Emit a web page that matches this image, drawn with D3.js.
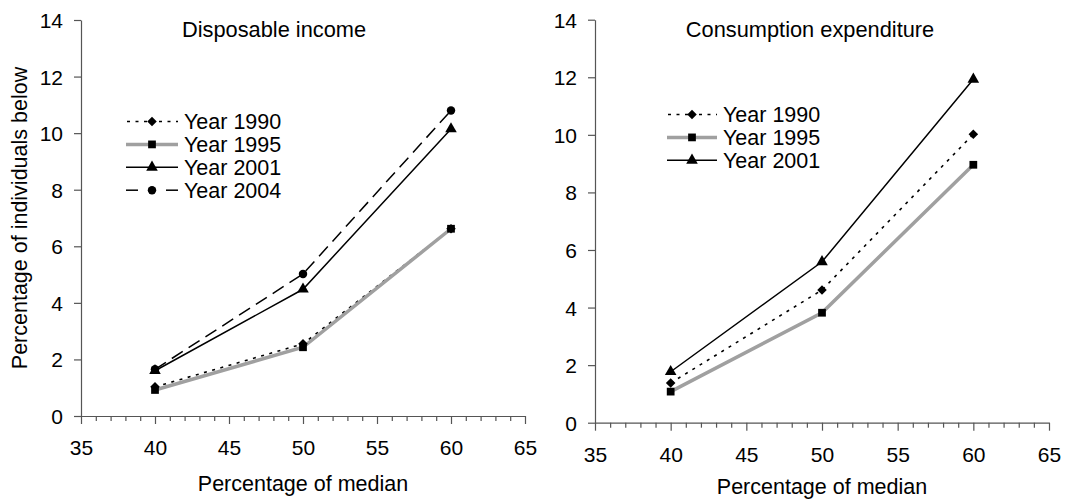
<!DOCTYPE html>
<html>
<head>
<meta charset="utf-8">
<script src="https://cdn.jsdelivr.net/npm/d3@7"></script>
<style>
  html, body { margin: 0; padding: 0; background: #fff; }
  svg { display: block; }
  text { font-family: "Liberation Sans", Arial, sans-serif; fill: #000; }
</style>
</head>
<body>
<svg id="chart" width="1070" height="502"></svg>
<script>
// ---- data ----
const xValues = [40, 50, 60];
const xTicks = [35, 40, 45, 50, 55, 60, 65];
const yTicks = [0, 2, 4, 6, 8, 10, 12, 14];

const incomeSeriesNames = ["Year 1990", "Year 1995", "Year 2001", "Year 2004"];
const income1990 = [1.03, 2.55, 6.62];
const income1995 = [0.92, 2.43, 6.62];
const income2001 = [1.60, 4.48, 10.15];
const income2004 = [1.65, 5.02, 10.80];

const consSeriesNames = ["Year 1990", "Year 1995", "Year 2001"];
const cons1990 = [1.38, 4.61, 10.02];
const cons1995 = [1.08, 3.82, 8.96];
const cons2001 = [1.77, 5.59, 11.93];

const panelTitles = ["Disposable income", "Consumption expenditure"];
const xLabel = "Percentage of median";
const yLabel = "Percentage of individuals below";

// ---- styles ----
const styles = {
  "Year 1990": { color: "#000", width: 1.6, dash: "3,5.5", marker: "diamond" },
  "Year 1995": { color: "#a0a0a0", width: 3.5, dash: null, marker: "square" },
  "Year 2001": { color: "#000", width: 1.5, dash: null, marker: "triangle" },
  "Year 2004": { color: "#000", width: 1.5, dash: "13,7", marker: "circle" }
};
const symbolMap = {
  diamond: d3.symbol().type(d3.symbolDiamond2).size(58),
  square: d3.symbol().type(d3.symbolSquare).size(60),
  triangle: d3.symbol().type(d3.symbolTriangle).size(58),
  circle: d3.symbol().type(d3.symbolCircle).size(56)
};

const svg = d3.select("#chart");
svg.append("rect").attr("width", 1070).attr("height", 502).attr("fill", "#fff");

const panels = [
  {
    title: panelTitles[0], titleX: 274, xRange: [81, 525], yRange: [416, 20],
    names: incomeSeriesNames, values: [income1990, income1995, income2001, income2004],
    legendX: [126, 178], legendTextX: 184, legendY0: 121.5, legendDy: 22.9,
    xLabelX: 303, xLabelY: 491, tickLabelBaseline: 39
  },
  {
    title: panelTitles[1], titleX: 810, xRange: [595, 1049], yRange: [422.7, 19.7],
    names: consSeriesNames, values: [cons1990, cons1995, cons2001],
    legendX: [667, 717], legendTextX: 723, legendY0: 114.5, legendDy: 22.9,
    xLabelX: 822, xLabelY: 494, tickLabelBaseline: 39
  }
];

const axisColor = "#555";
const FF = "Liberation Sans, Arial, sans-serif";

panels.forEach(p => {
  const x = d3.scaleLinear().domain([35, 65]).range(p.xRange);
  const y = d3.scaleLinear().domain([0, 14]).range(p.yRange);
  const g = svg.append("g");

  // minor x ticks
  const minor = d3.range(35, 66, 1).filter(v => v % 5 !== 0);
  const gMinor = g.append("g").attr("transform", `translate(0,${y(0)})`)
    .call(d3.axisBottom(x).tickValues(minor).tickSize(5).tickFormat(""));
  gMinor.select(".domain").remove();

  // major x axis
  const gx = g.append("g").attr("transform", `translate(0,${y(0)})`)
    .call(d3.axisBottom(x).tickValues(xTicks).tickSize(8).tickSizeOuter(0).tickFormat(d3.format("d")));
  gx.selectAll("text").attr("y", p.tickLabelBaseline).attr("dy", 0)
    .attr("font-size", 21).attr("font-family", FF).attr("fill", "#000");

  // y axis
  const gy = g.append("g").attr("transform", `translate(${x(35)},0)`)
    .call(d3.axisLeft(y).tickValues(yTicks).tickSize(7).tickSizeOuter(0).tickPadding(11).tickFormat(d3.format("d")));
  gy.selectAll("text").attr("font-size", 21).attr("font-family", FF)
    .attr("fill", "#000").attr("dy", "0.36em");

  g.selectAll(".domain, .tick line").attr("stroke", axisColor).attr("stroke-width", 1.2);

  // title
  g.append("text").attr("x", p.titleX).attr("y", 37).attr("text-anchor", "middle")
    .attr("font-size", 21.8).text(p.title);

  // x label
  g.append("text").attr("x", p.xLabelX).attr("y", p.xLabelY).attr("text-anchor", "middle")
    .attr("font-size", 21.5).text(xLabel);

  // series
  const line = d3.line().x((d, i) => x(xValues[i])).y(d => y(d));
  p.names.forEach((name, si) => {
    const st = styles[name];
    const vals = p.values[si];
    g.append("path").datum(vals).attr("d", line).attr("fill", "none")
      .attr("stroke", st.color).attr("stroke-width", st.width)
      .attr("stroke-dasharray", st.dash).attr("stroke-linejoin", "miter");
  });
  p.names.forEach((name, si) => {
    const st = styles[name];
    const vals = p.values[si];
    g.selectAll(null).data(vals).enter().append("path")
      .attr("d", symbolMap[st.marker])
      .attr("transform", (d, i) => `translate(${x(xValues[i])},${y(d)})`)
      .attr("fill", "#000");
  });

  // legend
  p.names.forEach((name, si) => {
    const st = styles[name];
    const ly = p.legendY0 + si * p.legendDy;
    const [lx0, lx1] = p.legendX;
    const mx = (lx0 + lx1) / 2;
    const lg = g.append("g");
    if (st.marker === "circle") {
      lg.append("line").attr("x1", lx0).attr("x2", lx0 + 12).attr("y1", ly).attr("y2", ly)
        .attr("stroke", st.color).attr("stroke-width", st.width);
      lg.append("line").attr("x1", lx1 - 12).attr("x2", lx1).attr("y1", ly).attr("y2", ly)
        .attr("stroke", st.color).attr("stroke-width", st.width);
    } else if (st.dash) {
      lg.append("line").attr("x1", lx0 + 1).attr("x2", mx).attr("y1", ly).attr("y2", ly)
        .attr("stroke", st.color).attr("stroke-width", st.width).attr("stroke-dasharray", "3,5.5");
      lg.append("line").attr("x1", mx + 7).attr("x2", lx1).attr("y1", ly).attr("y2", ly)
        .attr("stroke", st.color).attr("stroke-width", st.width).attr("stroke-dasharray", "3,5.5");
    } else {
      lg.append("line").attr("x1", lx0).attr("x2", lx1).attr("y1", ly).attr("y2", ly)
        .attr("stroke", st.color).attr("stroke-width", st.width);
    }
    lg.append("path").attr("d", symbolMap[st.marker]).attr("transform", `translate(${mx},${ly})`).attr("fill", "#000");
    lg.append("text").attr("x", p.legendTextX).attr("y", ly + 7.8).attr("font-size", 21.5).text(name);
  });
});

// shared y label (left panel)
svg.append("text").attr("transform", "translate(27,218) rotate(-90)")
  .attr("text-anchor", "middle").attr("font-size", 21.5).text(yLabel);
</script>
</body>
</html>
